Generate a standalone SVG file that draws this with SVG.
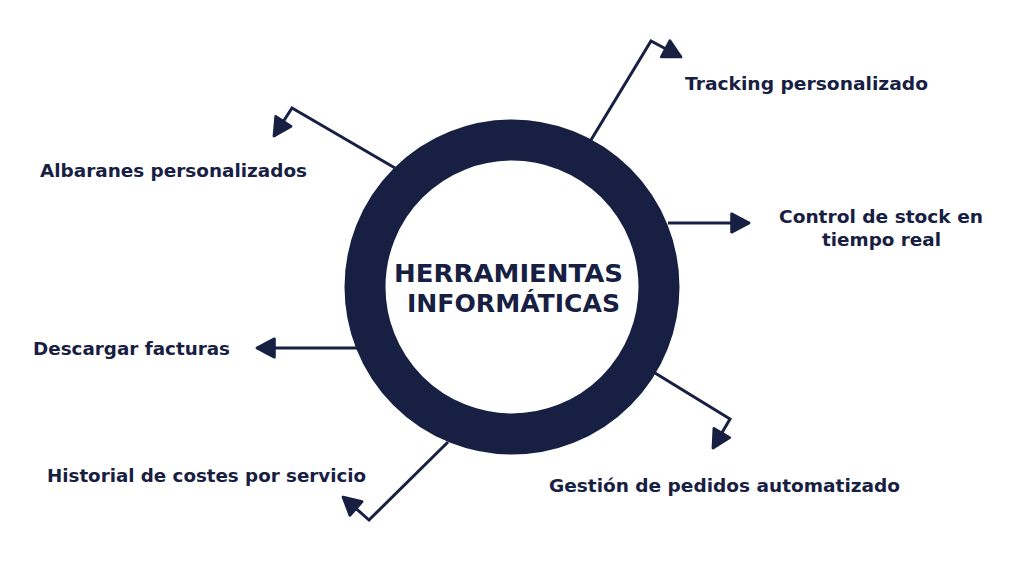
<svg xmlns="http://www.w3.org/2000/svg" width="1024" height="576" viewBox="0 0 1024 576">
<style>
.lbl{font-family:"DejaVu Sans","Liberation Sans",sans-serif;font-weight:bold;font-size:18px;fill:#172042}
.ctr{font-family:"DejaVu Sans","Liberation Sans",sans-serif;font-weight:bold;font-size:24px;fill:#172042}
.con{fill:none;stroke:#172042;stroke-width:3;stroke-linejoin:miter}
</style>
<defs>
<marker id="ah" viewBox="0 0 24 24" markerWidth="22" markerHeight="22" markerUnits="userSpaceOnUse" refX="22" refY="12" orient="auto">
<path d="M3,2 L22,12 L3,22 Z" fill="#172042" stroke="#172042" stroke-width="3" stroke-linejoin="round"/>
</marker>
</defs>
<rect width="1024" height="576" fill="#ffffff"/>
<g id="connectors">
<path class="con" d="M591,140 L651,41 L681,57" marker-end="url(#ah)"/>
<path class="con" d="M395,168 L292,108 L274,136" marker-end="url(#ah)"/>
<path class="con" d="M668,223 L749,223" marker-end="url(#ah)"/>
<path class="con" d="M357,348 L257,348" marker-end="url(#ah)"/>
<path class="con" d="M655,373 L730,419 L713,448" marker-end="url(#ah)"/>
<path class="con" d="M448,442 L369,520 L343,497" marker-end="url(#ah)"/>
</g>
<g id="center">
<circle cx="512" cy="287" r="147" fill="none" stroke="#172042" stroke-width="41"/>
<text class="ctr" x="394" y="282" textLength="229" lengthAdjust="spacingAndGlyphs">HERRAMIENTAS</text>
<text class="ctr" x="407" y="312" textLength="213" lengthAdjust="spacingAndGlyphs">INFORMÁTICAS</text>
</g>
<g id="tracking"><text class="lbl" x="685" y="90" textLength="243" lengthAdjust="spacingAndGlyphs">Tracking personalizado</text></g>
<g id="albaranes"><text class="lbl" x="40" y="177" textLength="267" lengthAdjust="spacingAndGlyphs">Albaranes personalizados</text></g>
<g id="control">
<text class="lbl" x="779" y="223" textLength="204" lengthAdjust="spacingAndGlyphs">Control de stock en</text>
<text class="lbl" x="822" y="246" textLength="119" lengthAdjust="spacingAndGlyphs">tiempo real</text>
</g>
<g id="descargar"><text class="lbl" x="33" y="355" textLength="197" lengthAdjust="spacingAndGlyphs">Descargar facturas</text></g>
<g id="historial"><text class="lbl" x="47" y="482" textLength="319" lengthAdjust="spacingAndGlyphs">Historial de costes por servicio</text></g>
<g id="gestion"><text class="lbl" x="549" y="492" textLength="351" lengthAdjust="spacingAndGlyphs">Gestión de pedidos automatizado</text></g>
</svg>
